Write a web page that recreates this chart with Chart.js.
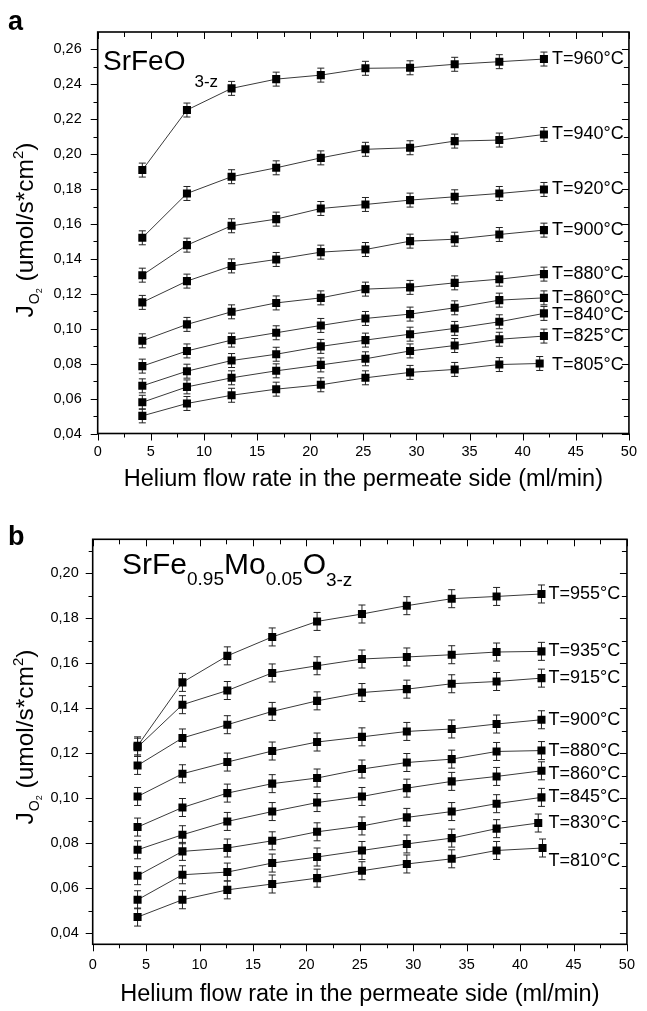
<!DOCTYPE html>
<html>
<head>
<meta charset="utf-8">
<script src="https://cdn.jsdelivr.net/npm/chart.js@4.4.1/dist/chart.umd.min.js"></script>
<style>
html, body { margin: 0; padding: 0; background: #fff; }
#wrap { position: relative; width: 647px; height: 1011px; }
canvas { position: absolute; left: 0; }
#chartA { top: 0; }
#chartB { top: 500px; }
</style>
</head>
<body>
<div id="wrap">
  <canvas id="chartA" width="647" height="500"></canvas>
  <canvas id="chartB" width="647" height="511"></canvas>
</div>
<script>
// helium flow rate, ml/min
const flowRate = [4.2, 8.4, 12.6, 16.8, 21.0, 25.2, 29.4, 33.6, 37.8, 42.0];
const flowRate805 = [4.2, 8.4, 12.6, 16.8, 21.0, 25.2, 29.4, 33.6, 37.8, 41.6];
const flowRate830 = [4.2, 8.4, 12.6, 16.8, 21.0, 25.2, 29.4, 33.6, 37.8, 41.7];
const flowRate810 = [4.2, 8.4, 12.6, 16.8, 21.0, 25.2, 29.4, 33.6, 37.8, 42.1];

// panel a : SrFeO3-z
const tempsA = ['T=960°C', 'T=940°C', 'T=920°C', 'T=900°C', 'T=880°C', 'T=860°C', 'T=840°C', 'T=825°C', 'T=805°C'];
const jA960 = [0.1909, 0.2253, 0.2377, 0.2430, 0.2453, 0.2492, 0.2495, 0.2515, 0.2530, 0.2545];
const jA940 = [0.1521, 0.1775, 0.1871, 0.1922, 0.1979, 0.2028, 0.2037, 0.2075, 0.2081, 0.2113];
const jA920 = [0.1307, 0.1479, 0.1590, 0.1628, 0.1689, 0.1712, 0.1737, 0.1756, 0.1775, 0.1798];
const jA900 = [0.1151, 0.1273, 0.1360, 0.1397, 0.1439, 0.1454, 0.1502, 0.1513, 0.1540, 0.1565];
const jA880 = [0.0931, 0.1025, 0.1097, 0.1148, 0.1177, 0.1227, 0.1237, 0.1263, 0.1284, 0.1313];
const jA860 = [0.0786, 0.0873, 0.0935, 0.0977, 0.1019, 0.1059, 0.1084, 0.1120, 0.1164, 0.1177];
const jA840 = [0.0673, 0.0757, 0.0818, 0.0854, 0.0899, 0.0935, 0.0969, 0.1002, 0.1040, 0.1088];
const jA825 = [0.0579, 0.0667, 0.0719, 0.0759, 0.0793, 0.0828, 0.0873, 0.0904, 0.0940, 0.0958];
const jA805 = [0.0501, 0.0572, 0.0619, 0.0654, 0.0679, 0.0719, 0.0750, 0.0767, 0.0795, 0.0801];

// panel b : SrFe0.95Mo0.05O3-z
const tempsB = ['T=955°C', 'T=935°C', 'T=915°C', 'T=900°C', 'T=880°C', 'T=860°C', 'T=845°C', 'T=830°C', 'T=810°C'];
const jB955 = [0.1232, 0.1514, 0.1632, 0.1716, 0.1785, 0.1818, 0.1855, 0.1886, 0.1896, 0.1907];
const jB935 = [0.1226, 0.1415, 0.1478, 0.1556, 0.1588, 0.1618, 0.1627, 0.1637, 0.1649, 0.1652];
const jB915 = [0.1145, 0.1267, 0.1326, 0.1385, 0.1432, 0.1469, 0.1484, 0.1508, 0.1518, 0.1533];
const jB900 = [0.1007, 0.1108, 0.1160, 0.1209, 0.1249, 0.1272, 0.1296, 0.1307, 0.1329, 0.1348];
const jB880 = [0.0871, 0.0958, 0.1022, 0.1064, 0.1089, 0.1129, 0.1158, 0.1173, 0.1207, 0.1211];
const jB860 = [0.0770, 0.0837, 0.0896, 0.0940, 0.0980, 0.1007, 0.1044, 0.1074, 0.1096, 0.1121];
const jB845 = [0.0655, 0.0763, 0.0778, 0.0810, 0.0850, 0.0876, 0.0914, 0.0940, 0.0975, 0.1003];
const jB830 = [0.0548, 0.0659, 0.0671, 0.0711, 0.0738, 0.0767, 0.0796, 0.0822, 0.0864, 0.0889];
const jB810 = [0.0471, 0.0548, 0.0592, 0.0618, 0.0644, 0.0677, 0.0707, 0.0730, 0.0767, 0.0778];

const jErr = 0.004;

const xTicks = [0, 5, 10, 15, 20, 25, 30, 35, 40, 45, 50];
const yTicksA = [0.04, 0.06, 0.08, 0.10, 0.12, 0.14, 0.16, 0.18, 0.20, 0.22, 0.24, 0.26];
const yTicksB = [0.04, 0.06, 0.08, 0.10, 0.12, 0.14, 0.16, 0.18, 0.20];

const FONT = "'Liberation Sans', Arial, sans-serif";

// draw text made of runs (sub/superscripts)
function drawRuns(ctx, runs, x, y, align) {
    let w = 0;
    runs.forEach(r => {
        ctx.font = (r.bold ? 'bold ' : '') + r.size + 'px ' + FONT;
        r.w = ctx.measureText(r.t).width + (r.dx || 0);
        w += r.w;
    });
    let cx = align === 'center' ? x - w / 2 : x;
    runs.forEach(r => {
        ctx.font = (r.bold ? 'bold ' : '') + r.size + 'px ' + FONT;
        ctx.fillText(r.t, cx + (r.dx || 0), y + (r.dy || 0));
        cx += r.w;
    });
}

const errorBars = {
    id: 'errorBars',
    beforeDatasetsDraw(chart) {
        const ctx = chart.ctx, ys = chart.scales.y;
        ctx.save();
        ctx.strokeStyle = '#222';
        ctx.lineWidth = 1;
        chart.data.datasets.forEach((ds, i) => {
            chart.getDatasetMeta(i).data.forEach((pt, k) => {
                const v = ds.data[k].y;
                const y1 = ys.getPixelForValue(v + jErr), y2 = ys.getPixelForValue(v - jErr);
                ctx.beginPath();
                ctx.moveTo(pt.x, y1); ctx.lineTo(pt.x, y2);
                ctx.moveTo(pt.x - 3.5, y1); ctx.lineTo(pt.x + 3.5, y1);
                ctx.moveTo(pt.x - 3.5, y2); ctx.lineTo(pt.x + 3.5, y2);
                ctx.stroke();
            });
        });
        ctx.restore();
    }
};

const decorations = {
    id: 'decorations',
    afterDraw(chart, args, o) {
        const { ctx, chartArea: a } = chart;
        const xs = chart.scales.x, ys = chart.scales.y;
        ctx.save();
        ctx.strokeStyle = '#000';
        ctx.fillStyle = '#000';
        ctx.lineWidth = 1;
        ctx.beginPath();
        o.xTicks.forEach((v, i) => {
            let px = Math.round(xs.getPixelForValue(v)) + 0.5;
            ctx.moveTo(px, a.bottom); ctx.lineTo(px, a.bottom + 7);
            ctx.moveTo(px, a.top); ctx.lineTo(px, a.top + 7);
            if (i < o.xTicks.length - 1) {
                px = Math.round(xs.getPixelForValue(v + 2.5)) + 0.5;
                ctx.moveTo(px, a.bottom); ctx.lineTo(px, a.bottom + 4);
                ctx.moveTo(px, a.top); ctx.lineTo(px, a.top + 5);
            }
        });
        o.yTicks.forEach(v => {
            let py = Math.round(ys.getPixelForValue(v)) + 0.5;
            ctx.moveTo(a.left - 7, py); ctx.lineTo(a.left, py);
            ctx.moveTo(a.right, py); ctx.lineTo(a.right - 7, py);
            [v + 0.01, v - 0.01].forEach(m => {
                if (m > ys.min && m < ys.max && m > o.yTicks[0] - 0.001) {
                    py = Math.round(ys.getPixelForValue(m)) + 0.5;
                    ctx.moveTo(a.left - 4, py); ctx.lineTo(a.left, py);
                    ctx.moveTo(a.right, py); ctx.lineTo(a.right - 5, py);
                }
            });
        });
        ctx.stroke();
        ctx.lineWidth = 1.6;
        ctx.strokeRect(a.left, a.top, a.right - a.left, a.bottom - a.top);

        // temperature labels
        ctx.font = '18px ' + FONT;
        ctx.textBaseline = 'middle';
        ctx.textAlign = 'left';
        chart.data.datasets.forEach((ds, i) => {
            const last = ds.data[ds.data.length - 1];
            const py = ys.getPixelForValue(last.y) + (o.labelShift[ds.label] || 0);
            ctx.fillText(ds.label, xs.getPixelForValue(o.labelX), py);
        });

        ctx.textBaseline = 'alphabetic';
        // panel letter
        drawRuns(ctx, [{ t: o.letter, size: 27, bold: true }], 8, o.letterY, 'left');
        // compound
        drawRuns(ctx, o.compound, o.compoundX, o.compoundY, 'left');
        // x title
        drawRuns(ctx, [{ t: 'Helium flow rate in the permeate side (ml/min)', size: 23.5 }],
            (a.left + a.right) / 2, o.xTitleY, 'center');
        // y title, rotated
        ctx.translate(o.yTitleX, o.yTitleCY);
        ctx.rotate(-Math.PI / 2);
        drawRuns(ctx, [
            { t: 'J', size: 24.5 },
            { t: 'O', size: 14, dy: 6, dx: 1 },
            { t: '2', size: 9, dy: 9 },
            { t: ' (umol/s*cm', size: 24.5 },
            { t: '2', size: 15, dy: -10 },
            { t: ')', size: 24.5 }
        ], 0, 0, 'center');
        ctx.restore();
    }
};

function series(xs, ys, label) {
    return {
        label: label,
        data: xs.map((x, i) => ({ x: x, y: ys[i] })),
        showLine: true,
        borderColor: '#3a3a3a',
        borderWidth: 1,
        pointStyle: 'rect',
        pointRadius: 5.7,
        pointBackgroundColor: '#000',
        pointBorderWidth: 0,
        tension: 0
    };
}

function makeChart(id, datasets, cfg) {
    return new Chart(document.getElementById(id), {
        type: 'scatter',
        data: { datasets: datasets },
        options: {
            responsive: false,
            animation: false,
            events: [],
            layout: { padding: { top: cfg.top, right: 10.3, left: 0, bottom: 0 } },
            plugins: {
                legend: { display: false },
                tooltip: { enabled: false },
                decorations: cfg.deco
            },
            scales: {
                x: {
                    type: 'linear', min: 0, max: 50,
                    grid: { display: false, drawTicks: false },
                    border: { display: false },
                    afterBuildTicks: s => { s.ticks = xTicks.map(v => ({ value: v })); },
                    afterFit: s => { s.height = cfg.xHeight; },
                    ticks: { autoSkip: false, maxRotation: 0, padding: cfg.xPad, color: '#000',
                        font: { family: FONT, size: 14.5 }, callback: v => String(v) }
                },
                y: {
                    type: 'linear', min: cfg.yMin, max: cfg.yMax,
                    grid: { display: false, drawTicks: false },
                    border: { display: false },
                    afterBuildTicks: s => { s.ticks = cfg.yTicks.map(v => ({ value: v })); },
                    afterFit: s => { s.width = cfg.yWidth; },
                    ticks: { autoSkip: false, padding: cfg.yPad, color: '#000',
                        font: { family: FONT, size: 14.5 },
                        callback: v => v.toFixed(2).replace('.', ',') }
                }
            }
        },
        plugins: [errorBars, decorations]
    });
}

makeChart('chartA', [
    series(flowRate, jA960, tempsA[0]),
    series(flowRate, jA940, tempsA[1]),
    series(flowRate, jA920, tempsA[2]),
    series(flowRate, jA900, tempsA[3]),
    series(flowRate, jA880, tempsA[4]),
    series(flowRate, jA860, tempsA[5]),
    series(flowRate, jA840, tempsA[6]),
    series(flowRate, jA825, tempsA[7]),
    series(flowRate805, jA805, tempsA[8])
], {
    top: 32, xHeight: 66.5, yWidth: 97.7, yMin: 0.04, yMax: 0.27, yTicks: yTicksA, xPad: 10, yPad: 16,
    deco: {
        xTicks: xTicks, yTicks: yTicksA, labelX: 42.75, labelShift: { 'T=805°C': 2, 'T=840°C': 2 },
        letter: 'a', letterY: 30,
        compound: [{ t: 'SrFeO', size: 28 }, { t: '3-z', size: 17, dy: 17, dx: 9 }],
        compoundX: 103, compoundY: 70,
        xTitleY: 486, yTitleX: 33, yTitleCY: 230
    }
});

makeChart('chartB', [
    series(flowRate, jB955, tempsB[0]),
    series(flowRate, jB935, tempsB[1]),
    series(flowRate, jB915, tempsB[2]),
    series(flowRate, jB900, tempsB[3]),
    series(flowRate, jB880, tempsB[4]),
    series(flowRate, jB860, tempsB[5]),
    series(flowRate, jB845, tempsB[6]),
    series(flowRate830, jB830, tempsB[7]),
    series(flowRate810, jB810, tempsB[8])
], {
    top: 39.3, xHeight: 66.7, yWidth: 92.7, yMin: 0.035, yMax: 0.215, yTicks: yTicksB, xPad: 12, yPad: 14,
    deco: {
        xTicks: xTicks, yTicks: yTicksB, labelX: 42.65, labelShift: { 'T=810°C': 13, 'T=860°C': 3 },
        letter: 'b', letterY: 45,
        compound: [
            { t: 'SrFe', size: 30 }, { t: '0.95', size: 19, dy: 11 },
            { t: 'Mo', size: 30 }, { t: '0.05', size: 19, dy: 11 },
            { t: 'O', size: 30 }, { t: '3-z', size: 19, dy: 12 }
        ],
        compoundX: 122, compoundY: 74,
        xTitleY: 501, yTitleX: 33, yTitleCY: 237
    }
});
</script>
</body>
</html>
